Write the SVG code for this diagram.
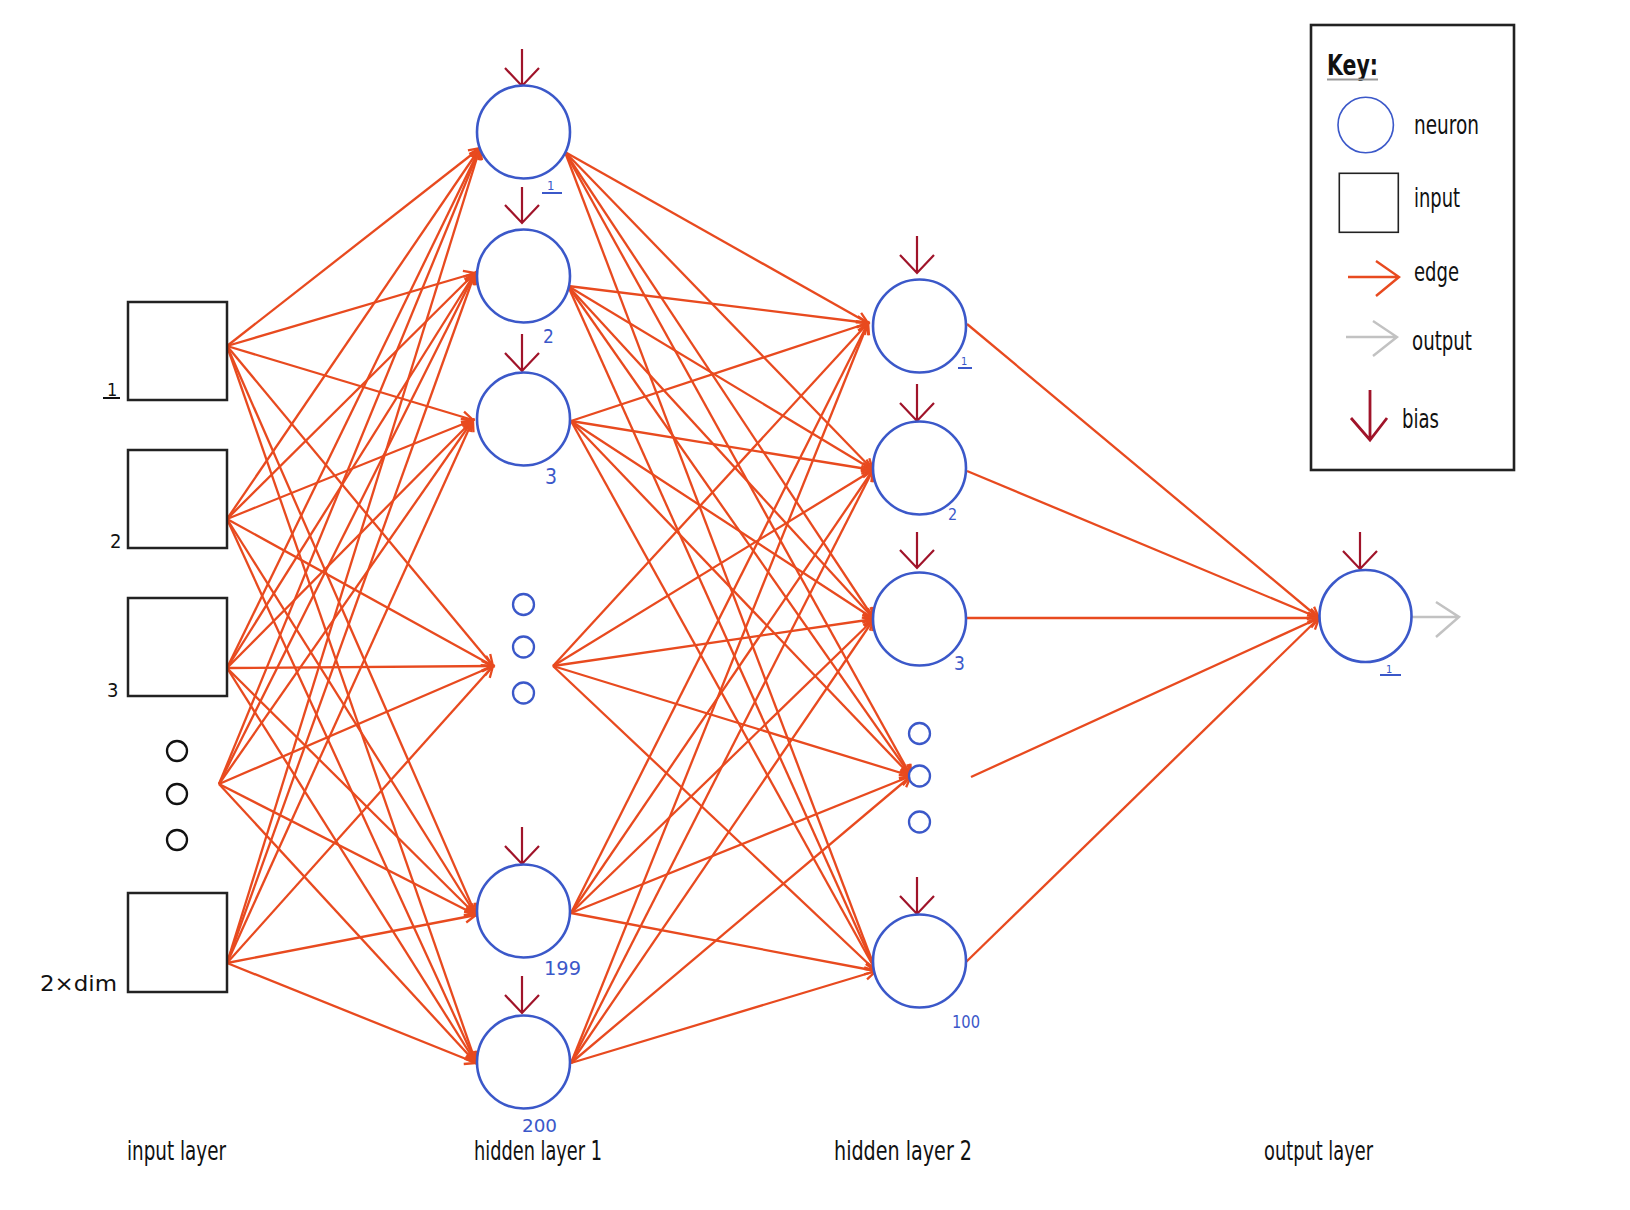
<svg xmlns="http://www.w3.org/2000/svg" width="1630" height="1210" viewBox="0 0 1630 1210">
<defs>
<style>
.edge{stroke:#e84a1f;stroke-width:2.3;fill:none;marker-end:url(#ah)}
.neuron{fill:#fff;stroke:#3b58c9;stroke-width:2.6}
.dot{fill:#fff;stroke:#3b58c9;stroke-width:2.3}
.idot{fill:#fff;stroke:#111;stroke-width:2.3}
.box{fill:#fff;stroke:#222;stroke-width:2.5}
.bias{stroke:#a0142a;stroke-width:2.2;fill:none}
.hand{font-family:"Liberation Sans Narrow","DejaVu Sans Condensed","Liberation Sans",sans-serif;fill:#111}
.lay{font-size:27px}
.nl{font-family:"Liberation Sans Narrow","DejaVu Sans Condensed","Liberation Sans",sans-serif;fill:#3b58c9}
.ul{stroke:#3b58c9;stroke-width:2}
</style>
<marker id="ah" viewBox="-14 -8 16 16" markerWidth="16" markerHeight="16" refX="0" refY="0" orient="auto" markerUnits="userSpaceOnUse" overflow="visible">
<path d="M-11,-5.5 L0,0 L-11,5.5" fill="none" stroke="#e84a1f" stroke-width="2.3"/>
</marker>
</defs>
<rect width="1630" height="1210" fill="#fff"/>

<g id="connectors">
<!-- input layer to hidden layer 1 -->
<line class="edge" x1="227" y1="346" x2="480" y2="148"/>
<line class="edge" x1="227" y1="346" x2="475" y2="273"/>
<line class="edge" x1="227" y1="346" x2="473" y2="420"/>
<line class="edge" x1="227" y1="346" x2="493" y2="666"/>
<line class="edge" x1="227" y1="346" x2="476" y2="915"/>
<line class="edge" x1="227" y1="346" x2="476" y2="1063"/>
<line class="edge" x1="227" y1="519" x2="480" y2="148"/>
<line class="edge" x1="227" y1="519" x2="475" y2="273"/>
<line class="edge" x1="227" y1="519" x2="473" y2="420"/>
<line class="edge" x1="227" y1="519" x2="493" y2="666"/>
<line class="edge" x1="227" y1="519" x2="476" y2="915"/>
<line class="edge" x1="227" y1="519" x2="476" y2="1063"/>
<line class="edge" x1="227" y1="668" x2="480" y2="148"/>
<line class="edge" x1="227" y1="668" x2="475" y2="273"/>
<line class="edge" x1="227" y1="668" x2="473" y2="420"/>
<line class="edge" x1="227" y1="668" x2="493" y2="666"/>
<line class="edge" x1="227" y1="668" x2="476" y2="915"/>
<line class="edge" x1="227" y1="668" x2="476" y2="1063"/>
<line class="edge" x1="219" y1="784" x2="480" y2="148"/>
<line class="edge" x1="219" y1="784" x2="475" y2="273"/>
<line class="edge" x1="219" y1="784" x2="473" y2="420"/>
<line class="edge" x1="219" y1="784" x2="493" y2="666"/>
<line class="edge" x1="219" y1="784" x2="476" y2="915"/>
<line class="edge" x1="219" y1="784" x2="476" y2="1063"/>
<line class="edge" x1="227" y1="963" x2="480" y2="148"/>
<line class="edge" x1="227" y1="963" x2="475" y2="273"/>
<line class="edge" x1="227" y1="963" x2="473" y2="420"/>
<line class="edge" x1="227" y1="963" x2="493" y2="666"/>
<line class="edge" x1="227" y1="963" x2="476" y2="915"/>
<line class="edge" x1="227" y1="963" x2="476" y2="1063"/>
<!-- hidden layer 1 to hidden layer 2 -->
<line class="edge" x1="565" y1="152" x2="868" y2="323"/>
<line class="edge" x1="565" y1="152" x2="873" y2="470"/>
<line class="edge" x1="565" y1="152" x2="874" y2="619"/>
<line class="edge" x1="565" y1="152" x2="911" y2="776"/>
<line class="edge" x1="565" y1="152" x2="876" y2="971"/>
<line class="edge" x1="568" y1="286" x2="868" y2="323"/>
<line class="edge" x1="568" y1="286" x2="873" y2="470"/>
<line class="edge" x1="568" y1="286" x2="874" y2="619"/>
<line class="edge" x1="568" y1="286" x2="911" y2="776"/>
<line class="edge" x1="568" y1="286" x2="876" y2="971"/>
<line class="edge" x1="571" y1="421" x2="868" y2="323"/>
<line class="edge" x1="571" y1="421" x2="873" y2="470"/>
<line class="edge" x1="571" y1="421" x2="874" y2="619"/>
<line class="edge" x1="571" y1="421" x2="911" y2="776"/>
<line class="edge" x1="571" y1="421" x2="876" y2="971"/>
<line class="edge" x1="553" y1="666" x2="868" y2="323"/>
<line class="edge" x1="553" y1="666" x2="873" y2="470"/>
<line class="edge" x1="553" y1="666" x2="874" y2="619"/>
<line class="edge" x1="553" y1="666" x2="911" y2="776"/>
<line class="edge" x1="553" y1="666" x2="876" y2="971"/>
<line class="edge" x1="571" y1="913" x2="868" y2="323"/>
<line class="edge" x1="571" y1="913" x2="873" y2="470"/>
<line class="edge" x1="571" y1="913" x2="874" y2="619"/>
<line class="edge" x1="571" y1="913" x2="911" y2="776"/>
<line class="edge" x1="571" y1="913" x2="876" y2="971"/>
<line class="edge" x1="571" y1="1063" x2="868" y2="323"/>
<line class="edge" x1="571" y1="1063" x2="873" y2="470"/>
<line class="edge" x1="571" y1="1063" x2="874" y2="619"/>
<line class="edge" x1="571" y1="1063" x2="911" y2="776"/>
<line class="edge" x1="571" y1="1063" x2="876" y2="971"/>
<!-- hidden layer 2 to output -->
<line class="edge" x1="967" y1="324" x2="1319" y2="618"/>
<line class="edge" x1="967" y1="471" x2="1319" y2="618"/>
<line class="edge" x1="965" y1="618" x2="1319" y2="618"/>
<line class="edge" x1="971" y1="777" x2="1319" y2="618"/>
<line class="edge" x1="965" y1="963" x2="1319" y2="618"/>
<!-- output arrow -->
<path d="M1410,617 H1459 M1436,602 L1459,617 L1436,637" stroke="#c2c2c2" stroke-width="2.5" fill="none"/>
</g>

<g id="input-1">
<rect class="box" x="128" y="302" width="99" height="98"/>
<text class="hand" x="107" y="396" font-size="18">1</text>
<line x1="103" y1="398" x2="120" y2="398" stroke="#111" stroke-width="2"/>
</g>
<g id="input-2">
<rect class="box" x="128" y="450" width="99" height="98"/>
<text class="hand" x="110" y="548" font-size="20">2</text>
</g>
<g id="input-3">
<rect class="box" x="128" y="598" width="99" height="98"/>
<text class="hand" x="107" y="697" font-size="20">3</text>
</g>
<g id="input-dots">
<circle class="idot" cx="177" cy="751" r="10"/>
<circle class="idot" cx="177" cy="794" r="10"/>
<circle class="idot" cx="177" cy="840" r="10"/>
</g>
<g id="input-2xdim">
<rect class="box" x="128" y="893" width="99" height="99"/>
<text class="hand" x="40" y="991" font-size="22" textLength="77" lengthAdjust="spacingAndGlyphs">2×dim</text>
</g>

<g id="h1-1">
<path class="bias" d="M522,49 V86 M505,68 L522,86 L539,68"/>
<circle class="neuron" cx="523.5" cy="132" r="46.5"/>
<text class="nl" x="547" y="190" font-size="13">1</text>
<line class="ul" x1="542" y1="193" x2="562" y2="193"/>
</g>
<g id="h1-2">
<path class="bias" d="M522,187 V223 M505,205 L522,223 L539,205"/>
<circle class="neuron" cx="523.5" cy="276" r="46.5"/>
<text class="nl" x="543" y="343" font-size="19">2</text>
</g>
<g id="h1-3">
<path class="bias" d="M522,334 V371 M505,353 L522,371 L539,353"/>
<circle class="neuron" cx="523.5" cy="419" r="46.5"/>
<text class="nl" x="545" y="484" font-size="21">3</text>
</g>
<g id="h1-dots">
<circle class="dot" cx="523.5" cy="604.5" r="10.5"/>
<circle class="dot" cx="523.5" cy="647" r="10.5"/>
<circle class="dot" cx="523.5" cy="693" r="10.5"/>
</g>
<g id="h1-199">
<path class="bias" d="M522,827 V864 M505,846 L522,864 L539,846"/>
<circle class="neuron" cx="523.5" cy="911" r="46.5"/>
<text class="nl" x="544" y="975" font-size="20" textLength="37" lengthAdjust="spacingAndGlyphs">199</text>
</g>
<g id="h1-200">
<path class="bias" d="M522,976 V1013 M505,995 L522,1013 L539,995"/>
<circle class="neuron" cx="523.5" cy="1062" r="46.5"/>
<text class="nl" x="522" y="1132" font-size="18" textLength="35" lengthAdjust="spacingAndGlyphs">200</text>
</g>

<g id="h2-1">
<path class="bias" d="M917,236 V273 M900,255 L917,273 L934,255"/>
<circle class="neuron" cx="919.5" cy="326" r="46.5"/>
<text class="nl" x="961" y="365" font-size="11">1</text>
<line class="ul" x1="958" y1="368" x2="972" y2="368"/>
</g>
<g id="h2-2">
<path class="bias" d="M917,384 V421 M900,403 L917,421 L934,403"/>
<circle class="neuron" cx="919.5" cy="468" r="46.5"/>
<text class="nl" x="948" y="520" font-size="16">2</text>
</g>
<g id="h2-3">
<path class="bias" d="M917,532 V568 M900,550 L917,568 L934,550"/>
<circle class="neuron" cx="919.5" cy="619" r="46.5"/>
<text class="nl" x="954" y="670" font-size="19">3</text>
</g>
<g id="h2-dots">
<circle class="dot" cx="919.5" cy="733.5" r="10.5"/>
<circle class="dot" cx="919.5" cy="776" r="10.5"/>
<circle class="dot" cx="919.5" cy="822" r="10.5"/>
</g>
<g id="h2-100">
<path class="bias" d="M917,877 V914 M900,896 L917,914 L934,896"/>
<circle class="neuron" cx="919.5" cy="961" r="46.5"/>
<text class="nl" x="952" y="1028" font-size="17" textLength="28" lengthAdjust="spacingAndGlyphs">100</text>
</g>

<g id="out-1">
<path class="bias" d="M1360,532 V569 M1343,551 L1360,569 L1377,551"/>
<circle class="neuron" cx="1365.5" cy="616" r="46"/>
<text class="nl" x="1386" y="673" font-size="11">1</text>
<line class="ul" x1="1380" y1="675" x2="1401" y2="675"/>
</g>

<g id="layer-labels">
<text class="hand lay" x="127" y="1160" textLength="99" lengthAdjust="spacingAndGlyphs">input layer</text>
<text class="hand lay" x="474" y="1160" textLength="128" lengthAdjust="spacingAndGlyphs">hidden layer 1</text>
<text class="hand lay" x="834" y="1160" textLength="138" lengthAdjust="spacingAndGlyphs">hidden layer 2</text>
<text class="hand lay" x="1264" y="1160" textLength="109" lengthAdjust="spacingAndGlyphs">output layer</text>
</g>

<g id="legend">
<rect x="1311" y="25" width="203" height="445" fill="none" stroke="#222" stroke-width="2.6"/>
<text class="hand" x="1327" y="75" font-size="29" font-weight="bold" textLength="51" lengthAdjust="spacingAndGlyphs">Key:</text>
<line x1="1327" y1="79.5" x2="1378" y2="79.5" stroke="#999" stroke-width="2"/>
<circle cx="1365.7" cy="125" r="27.7" fill="#fff" stroke="#3b58c9" stroke-width="1.6"/>
<text class="hand" x="1414" y="134" font-size="27" textLength="65" lengthAdjust="spacingAndGlyphs">neuron</text>
<rect x="1339.3" y="173.3" width="59" height="59" fill="#fff" stroke="#222" stroke-width="1.6"/>
<text class="hand" x="1414" y="207" font-size="27" textLength="46" lengthAdjust="spacingAndGlyphs">input</text>
<path d="M1348,277 H1399 M1376,261 L1399,277 L1376,296" stroke="#e84a1f" stroke-width="2.4" fill="none"/>
<text class="hand" x="1414" y="281" font-size="27" textLength="45" lengthAdjust="spacingAndGlyphs">edge</text>
<path d="M1346,337 H1397 M1373,321 L1397,337 L1373,356" stroke="#c2c2c2" stroke-width="2.4" fill="none"/>
<text class="hand" x="1412" y="350" font-size="27" textLength="60" lengthAdjust="spacingAndGlyphs">output</text>
<path d="M1370,390 V440 M1351,418 L1370,440 L1387,418" stroke="#a0142a" stroke-width="2.8" fill="none"/>
<text class="hand" x="1402" y="428" font-size="27" textLength="37" lengthAdjust="spacingAndGlyphs">bias</text>
</g>
</svg>
